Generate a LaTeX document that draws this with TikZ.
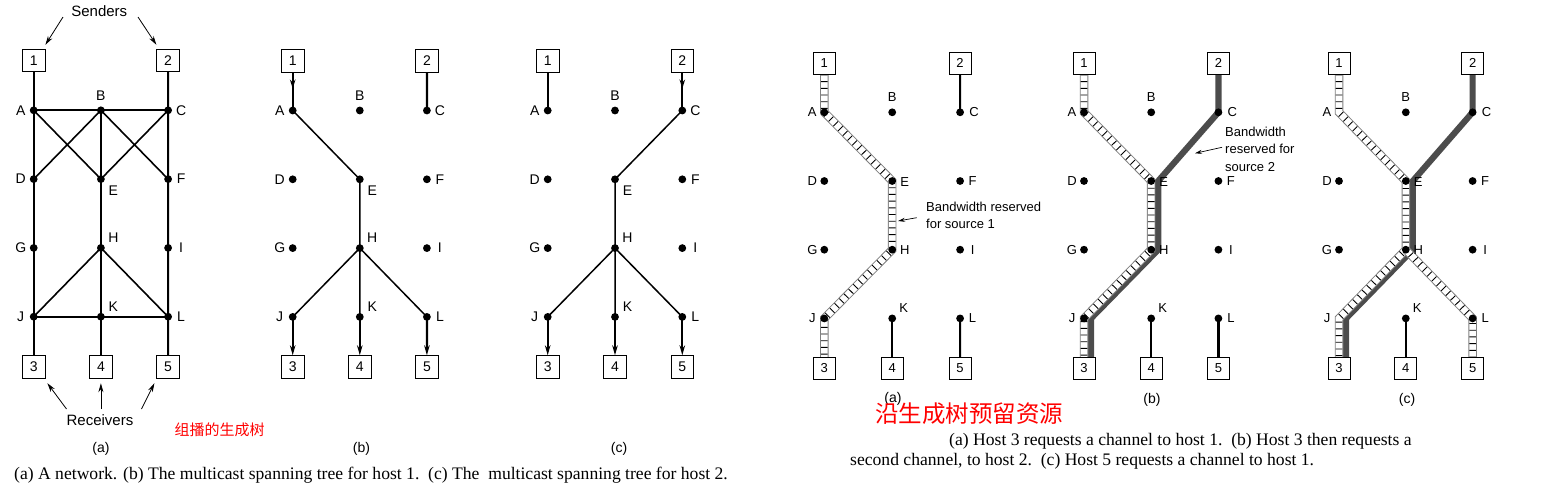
\documentclass[tikz,border=0pt]{standalone}
\usepackage{fontspec}
\setmainfont{Liberation Serif}
\setsansfont{Liberation Sans}
\newfontfamily\cjk{Noto Sans CJK SC}
\usetikzlibrary{arrows.meta,decorations.markings}
\pgfdeclarelayer{bg}
\pgfsetlayers{bg,main}
\tikzset{
  dot/.style={circle,fill=black,inner sep=0pt,minimum size=7.8pt},
  nodot/.style={circle,inner sep=0pt,minimum size=7.8pt},
  hostL/.style={draw,line width=0.9pt,minimum size=22.5pt,inner sep=0pt,font=\sffamily\fontsize{14}{16}\selectfont},
  hostR/.style={draw,line width=0.9pt,minimum size=22pt,inner sep=0pt,font=\sffamily\fontsize{13}{15}\selectfont},
  lblL/.style={inner sep=0pt,font=\sffamily\fontsize{14}{16}\selectfont},
  lblR/.style={inner sep=0pt,font=\sffamily\fontsize{13}{17.4}\selectfont},
  big/.style={inner sep=0pt,font=\sffamily\fontsize{15}{17}\selectfont},
  sub/.style={inner sep=0pt,font=\sffamily\fontsize{14}{16}\selectfont},
  captext/.style={inner sep=0pt,font=\rmfamily\fontsize{17.6}{20}\selectfont},
  link/.style={line width=2.2pt},
  diag/.style={line width=1.6pt},
  tree/.style={line width=1.5pt},
  ptr/.style={line width=0.8pt,-{Stealth[length=9pt,width=5pt]}},
  ptrs/.style={line width=0.7pt,-{Stealth[length=7pt,width=4pt]}},
  down/.style={line width=2.2pt,-{Stealth[length=10pt,width=5.5pt]}},
  midarrow/.style={line width=2.2pt,postaction={decorate},
    decoration={markings,mark=at position #1 with {\arrow{Stealth[length=9pt,width=5.5pt]}}}},
  dark/.style={line width=6.2pt,draw=black!70,line join=miter},
  ladA/.style={line width=8.5pt,draw=black!50,line join=miter},
  ladB/.style={line width=6.6pt,draw=white,line join=miter},
  ladC/.style={line width=6.6pt,draw=black,dash pattern=on 0.9pt off 5.8pt},
}
\newcommand\mkgrid[6]{%
  \foreach \n/\i/\j in {B/1/0,C/2/0,D/0/1,E/1/1,F/2/1,G/0/2,H/1/2,I/2/2,K/1/3,L/2/3}
    {\node[dot] (#1\n) at ({#2+\i*#4},{#3+\j*#5}) {};}
  \node[#6] (#1A) at (#2,#3) {};
  \node[#6] (#1J) at (#2,{#3+3*#5}) {};
}
\newcommand\labsL[1]{%
  \foreach \n/\dx/\dy in {A/-13/0,B/0/-14.5,C/13/0,D/-13/0,E/12.5/11.5,F/13/0,G/-13/0,H/12.5/-10,I/13/0,J/-13/0,K/12.5/-10,L/13/0}
    {\node[lblL] (#1\n-l) at ([shift={(\dx,\dy)}]#1\n.center) {\n};}
}
\newcommand\labsR[1]{%
  \foreach \n/\dx/\dy in {A/-12/0,B/0/-15.5,C/14/0,D/-12/0,E/12.5/1.5,F/12.5/0,G/-12/0,H/12.5/0,I/12.5/0,J/-12/0,K/11.5/-10.3,L/12.5/0}
    {\node[lblR] (#1\n-l) at ([shift={(\dx,\dy)}]#1\n.center) {\n};}
}
\newcommand\ladder[1]{\draw[ladA] #1; \draw[ladB] #1; \draw[ladC] #1;}
\begin{document}
\begin{tikzpicture}[x=1pt,y=-1pt]
\useasboundingbox (0,0) rectangle (1564,488);
% ---------------- left figure (a)
\mkgrid{a}{33.7}{110.3}{67.2}{68.8}{dot}
\labsL{a}
\node[hostL] (a1) at (33.7,60.5) {1};
\node[hostL] (a2) at (168.1,60.5) {2};
\node[hostL] (a3) at (33.7,367) {3};
\node[hostL] (a4) at (100.9,367) {4};
\node[hostL] (a5) at (168.1,367) {5};
\begin{pgfonlayer}{bg}
\draw[link] (a1) -- (aA.center) -- (aD.center) -- (aG.center) -- (aJ.center) -- (a3);
\draw[link] (a2) -- (aC.center) -- (aF.center) -- (aI.center) -- (aL.center) -- (a5);
\draw[link] (aB.center) -- (aE.center) -- (aH.center) -- (aK.center) -- (a4);
\draw[link] (aA.center) -- (aB.center) -- (aC.center);
\draw[link] (aJ.center) -- (aK.center) -- (aL.center);
\draw[diag] (aA.center) -- (aE.center) (aB.center) -- (aD.center)
  (aB.center) -- (aF.center) (aC.center) -- (aE.center)
  (aH.center) -- (aJ.center) (aH.center) -- (aL.center);
\end{pgfonlayer}
\node[big] (send) at (99.3,11) {Senders};
\coordinate (sL) at (63,17);
\coordinate (sR) at (138,17);
\draw[ptr] (sL) -- ([shift={(0,-4)}]a1.north east);
\draw[ptr] (sR) -- ([shift={(0,-4)}]a2.north west);
\node[big] (recv) at (100,420) {Receivers};
\coordinate (rL) at (66.5,409);
\coordinate (rM) at (100.9,409);
\coordinate (rR) at (141.5,409);
\draw[ptr] (rL) -- ([shift={(2,4.5)}]a3.south east);
\draw[ptr] (rM) -- ([shift={(0,4.5)}]a4.south);
\draw[ptr] (rR) -- ([shift={(-2,4.5)}]a5.south west);
\node[text=red,inner sep=0pt,font=\cjk\fontsize{15}{15}\selectfont] (redL) at (219.5,430) {组播的生成树};
% ---------------- left figure (b)
\mkgrid{b}{292.7}{110.5}{67.1}{68.8}{dot}
\labsL{b}
\node[hostL] (b1) at (292.7,61) {1};
\node[hostL] (b2) at (426.9,61) {2};
\node[hostL] (b3) at (292.7,367) {3};
\node[hostL] (b4) at (359.8,367) {4};
\node[hostL] (b5) at (426.9,367) {5};
\begin{pgfonlayer}{bg}
\draw[midarrow=0.42] (b1) -- (bA.center);
\draw[link] (b2) -- (bC.center);
\draw[tree] (bA.center) -- (bE.center) -- (bH.center) -- (bJ.center)
  (bH.center) -- (bK.center) (bH.center) -- (bL.center);
\draw[down] (bJ.center) -- (b3);
\draw[down] (bK.center) -- (b4);
\draw[down] (bL.center) -- (b5);
\end{pgfonlayer}
% ---------------- left figure (c)
\mkgrid{c}{547.7}{110.5}{67.3}{68.8}{dot}
\labsL{c}
\node[hostL] (c1) at (547.7,61) {1};
\node[hostL] (c2) at (682.3,61) {2};
\node[hostL] (c3) at (547.7,367) {3};
\node[hostL] (c4) at (615,367) {4};
\node[hostL] (c5) at (682.3,367) {5};
\begin{pgfonlayer}{bg}
\draw[link] (c1) -- (cA.center);
\draw[midarrow=0.42] (c2) -- (cC.center);
\draw[tree] (cC.center) -- (cE.center) -- (cH.center) -- (cJ.center)
  (cH.center) -- (cK.center) (cH.center) -- (cL.center);
\draw[down] (cJ.center) -- (c3);
\draw[down] (cK.center) -- (c4);
\draw[down] (cL.center) -- (c5);
\end{pgfonlayer}
\node[sub] (subLa) at (100.9,449) {(a)};
\node[sub] (subLb) at (361.5,449) {(b)};
\node[sub] (subLc) at (619,449) {(c)};
\node[captext,anchor=west] (capL) at (14,475) {(a) A network. (b) The multicast spanning tree for host 1.\enspace (c) The\enspace multicast spanning tree for host 2.};
% ---------------- right figure (a)
\mkgrid{p}{824.3}{112.3}{67.9}{68.7}{dot}
\labsR{p}
\node[hostR] (p1) at (824.3,63) {1};
\node[hostR] (p2) at (960.1,63) {2};
\node[hostR] (p3) at (824.3,368.5) {3};
\node[hostR] (p4) at (892.2,368.5) {4};
\node[hostR] (p5) at (960.1,368.5) {5};
\begin{pgfonlayer}{bg}
\draw[link] (p2) -- (pC.center);
\draw[link] (pK.center) -- (p4);
\draw[link] (pL.center) -- (p5);
\ladder{(p1.south) -- (pA.center) -- (pE.center) -- (pH.center) -- (pJ.center) -- (p3.north)}
\end{pgfonlayer}
\node[lblR,align=left,anchor=west] (notep) at (926,215.4) {Bandwidth reserved\\for source 1};
\coordinate (np1) at (916.7,217.7);
\coordinate (np2) at (898,221);
\draw[ptrs] (np1) -- (np2);
% ---------------- right figure (b)
\mkgrid{q}{1084}{112.3}{67.2}{68.7}{dot}
\labsR{q}
\node[hostR] (q1) at (1084,63) {1};
\node[hostR] (q2) at (1218.4,63) {2};
\node[hostR] (q3) at (1084,368.5) {3};
\node[hostR] (q4) at (1151.2,368.5) {4};
\node[hostR] (q5) at (1218.4,368.5) {5};
\begin{pgfonlayer}{bg}
\draw[link] (qK.center) -- (q4);
\draw[link] (qL.center) -- (q5);
\draw[dark] (q2.south) -- (qC.center) -- ([xshift=7pt]qE.center) -- ([xshift=7pt]qH.center) -- ([xshift=7pt]qJ.center) -- ([xshift=7pt]q3.north);
\ladder{(q1.south) -- (qA.center) -- (qE.center) -- (qH.center) -- (qJ.center) -- (q3.north)}
\end{pgfonlayer}
\node[lblR,align=left,anchor=west] (noteq) at (1225,149.3) {Bandwidth\\reserved for\\source 2};
\coordinate (nq1) at (1222,147.3);
\coordinate (nq2) at (1195,153.3);
\draw[ptrs] (nq1) -- (nq2);
% ---------------- right figure (c)
\mkgrid{r}{1339}{112.3}{66.8}{68.7}{nodot}
\labsR{r}
\node[hostR] (r1) at (1339,63) {1};
\node[hostR] (r2) at (1472.6,63) {2};
\node[hostR] (r3) at (1339,368.5) {3};
\node[hostR] (r4) at (1405.8,368.5) {4};
\node[hostR] (r5) at (1472.6,368.5) {5};
\begin{pgfonlayer}{bg}
\draw[link] (rK.center) -- (r4);
\draw[dark] (r2.south) -- (rC.center) -- ([xshift=7pt]rE.center) -- ([xshift=7pt]rH.center) -- ([xshift=7pt]rJ.center) -- ([xshift=7pt]r3.north);
\ladder{(r1.south) -- (rA.center) -- (rE.center) -- (rH.center) -- (rJ.center) -- (r3.north)}
\ladder{(rH.center) -- (rL.center) -- (r5.north)}
\end{pgfonlayer}
\node[sub] (subRa) at (893,399) {(a)};
\node[sub] (subRb) at (1152,400) {(b)};
\node[sub] (subRc) at (1407,400) {(c)};
\node[text=red,inner sep=0pt,font=\cjk\fontsize{23.5}{24}\selectfont] (redR) at (969,414) {沿生成树预留资源};
\node[captext,anchor=west] (capR1) at (949,441.7) {(a) Host 3 requests a channel to host 1.\enspace (b) Host 3 then requests a};
\node[captext,anchor=west] (capR2) at (850,461.7) {second channel, to host 2.\enspace (c) Host 5 requests a channel to host 1.};
\end{tikzpicture}
\end{document}
